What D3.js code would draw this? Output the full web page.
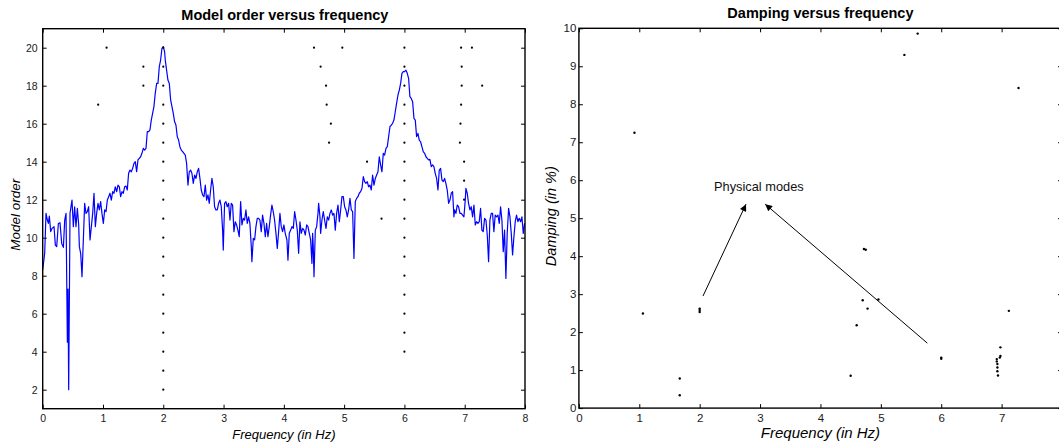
<!DOCTYPE html>
<html><head><meta charset="utf-8">
<script src="https://cdn.jsdelivr.net/npm/d3@7"></script>
<style>
body{margin:0;background:#fff;}
svg{display:block;}
text{font-family:"Liberation Sans",Arial,Helvetica,sans-serif;}
</style>
</head><body>
<svg id="chart" width="1059" height="444"></svg>
<script>
// ---------------- DATA ----------------
const leftTitle = "Model order versus frequency";
const rightTitle = "Damping versus frequency";
const leftXLabel = "Frequency (in Hz)";
const leftYLabel = "Model order";
const rightXLabel = "Frequency (in Hz)";
const rightYLabel = "Damping (in %)";
const annotationText = "Physical modes";

const leftXTicks = [0,1,2,3,4,5,6,7,8];
const leftYTicks = [2,4,6,8,10,12,14,16,18,20];
const rightXTicks = [0,1,2,3,4,5,6,7];
const rightYTicks = [0,1,2,3,4,5,6,7,8,9,10];

// spectrum (frequency Hz, scaled amplitude on model-order axis)
const spectrum = [
[0,8.3],[0.033,9.18],[0.055,11.28],[0.077,10.93],[0.094,10.75],[0.11,11.14],[0.133,10.32],[0.155,10.49],[0.188,10.58],[0.21,9.61],[0.232,9.53],[0.26,10.75],[0.287,10.79],[0.315,9.7],[0.343,9.49],[0.365,10.93],[0.387,11.28],[0.409,4.5],[0.42,7.3],[0.431,2.0],[0.453,11.28],[0.486,11.98],[0.508,10.58],[0.53,11.63],[0.552,10.58],[0.575,11.54],[0.597,10.67],[0.608,9.53],[0.63,9.18],[0.652,7.95],[0.674,9.88],[0.696,11.81],[0.718,11.28],[0.74,11.37],[0.762,11.63],[0.785,9.88],[0.807,10.58],[0.829,11.28],[0.851,12.34],[0.873,10.58],[0.895,11.28],[0.917,11.81],[0.939,11.46],[0.961,11.9],[0.983,11.28],[1.006,10.75],[1.028,11.46],[1.05,11.37],[1.072,11.98],[1.094,12.16],[1.116,12.34],[1.138,11.98],[1.16,12.42],[1.182,12.34],[1.204,12.68],[1.227,12.42],[1.249,12.77],[1.271,12.68],[1.293,12.16],[1.315,12.42],[1.337,12.34],[1.359,12.68],[1.381,12.72],[1.403,12.51],[1.425,13.39],[1.448,13.56],[1.47,13.47],[1.492,13.65],[1.514,13.91],[1.536,14.0],[1.558,13.47],[1.58,14.09],[1.602,14.18],[1.624,14.26],[1.646,14.44],[1.669,14.7],[1.691,14.61],[1.713,14.7],[1.735,15.58],[1.757,15.58],[1.779,15.67],[1.801,16.19],[1.823,16.54],[1.845,16.9],[1.867,17.6],[1.89,18.12],[1.912,18.12],[1.934,19.0],[1.956,19.35],[1.978,19.97],[2.0,20.05],[2.022,19.79],
[2.033,19.35],[2.055,18.82],[2.077,18.3],[2.1,18.12],[2.122,17.25],[2.144,16.9],[2.166,16.54],[2.188,16.1],[2.21,15.93],[2.232,15.32],[2.254,15.14],[2.276,14.79],[2.299,14.61],[2.321,14.53],[2.343,14.44],[2.365,14.35],[2.387,13.91],[2.409,12.77],[2.431,13.47],[2.453,13.56],[2.475,13.39],[2.498,12.86],[2.52,13.3],[2.542,13.12],[2.564,13.47],[2.586,13.65],[2.608,13.12],[2.63,12.51],[2.652,12.25],[2.675,12.16],[2.697,12.77],[2.719,11.98],[2.741,12.25],[2.763,11.81],[2.785,12.51],[2.807,13.12],[2.829,12.68],[2.851,11.63],[2.874,11.46],[2.896,11.46],[2.918,11.81],[2.94,11.98],[2.962,11.63],[2.984,10.4],[2.995,9.35],[3.017,11.81],[3.039,11.9],[3.061,11.63],[3.084,11.81],[3.106,10.93],[3.128,11.81],[3.15,11.72],[3.172,10.32],[3.194,10.84],[3.216,10.67],[3.238,10.4],[3.26,10.05],[3.283,11.9],[3.305,10.67],[3.327,11.02],[3.349,10.93],[3.371,11.46],[3.393,10.75],[3.415,11.1],[3.437,10.75],[3.46,9.53],[3.47,8.74],[3.493,9.96],[3.515,9.88],[3.537,10.58],[3.559,11.02],[3.581,11.02],[3.603,10.93],[3.625,10.32],[3.647,11.19],[3.67,10.75],[3.692,10.05],[3.714,10.75],[3.736,10.05],[3.758,10.58],[3.78,11.19],[3.802,11.72],[3.824,11.37],[3.846,10.93],[3.869,10.23],[3.891,9.44],[3.913,10.32],[3.935,11.28],[3.957,10.58],[3.979,10.32],[4.001,10.67],[4.023,10.23],[4.051,9.88],
[4.068,8.82],[4.09,10.23],[4.113,10.4],[4.135,10.58],[4.157,10.49],[4.179,11.37],[4.201,10.93],[4.223,10.4],[4.245,9.18],[4.267,10.84],[4.289,10.23],[4.312,10.49],[4.334,10.4],[4.356,10.14],[4.378,10.67],[4.4,10.58],[4.422,10.23],[4.444,9.88],[4.466,8.65],[4.477,10.23],[4.488,9.53],[4.5,7.95],[4.522,10.4],[4.544,10.58],[4.566,11.28],[4.577,11.81],[4.599,11.1],[4.61,10.23],[4.632,10.93],[4.654,11.37],[4.676,10.93],[4.699,10.49],[4.721,11.1],[4.743,10.93],[4.765,11.28],[4.787,11.46],[4.809,11.19],[4.831,11.28],[4.853,10.4],[4.875,11.28],[4.898,11.72],[4.92,10.84],[4.942,11.46],[4.964,12.16],[4.986,12.16],[5.008,11.63],[5.03,11.46],[5.052,11.1],[5.074,11.46],[5.097,12.07],[5.119,11.46],[5.141,11.37],[5.163,8.91],[5.185,11.9],[5.207,12.07],[5.229,12.16],[5.251,12.34],[5.273,12.42],[5.296,12.6],[5.318,13.21],[5.34,12.95],[5.362,12.86],[5.384,12.95],[5.406,12.68],[5.428,12.77],[5.45,12.51],[5.472,13.3],[5.495,12.77],[5.517,13.12],[5.539,13.3],[5.561,13.47],[5.583,14.26],[5.605,13.83],[5.627,13.47],[5.649,14.44],[5.671,14.35],[5.694,14.7],[5.716,14.79],[5.738,15.32],[5.76,15.84],[5.782,15.93],[5.804,16.02],[5.826,16.19],[5.848,16.63],[5.87,17.07],[5.893,17.51],[5.915,17.77],[5.937,18.12],[5.959,18.65],[5.981,18.74],[6.003,18.74],[6.025,18.82],[6.047,18.65],
[6.069,18.39],[6.091,17.42],[6.113,17.33],[6.136,17.16],[6.158,16.28],[6.18,16.19],[6.202,15.32],[6.224,15.49],[6.246,15.14],[6.268,15.05],[6.29,14.79],[6.312,14.53],[6.335,14.44],[6.357,14.26],[6.379,14.18],[6.401,14.09],[6.423,14.12],[6.445,13.74],[6.467,13.83],[6.489,13.74],[6.511,13.39],[6.534,13.12],[6.556,12.51],[6.578,13.56],[6.6,13.65],[6.622,13.04],[6.644,12.95],[6.666,13.12],[6.688,12.86],[6.71,12.51],[6.733,11.81],[6.755,11.98],[6.777,12.34],[6.799,12.42],[6.821,11.1],[6.832,11.46],[6.854,11.28],[6.876,11.72],[6.898,11.63],[6.921,11.28],[6.943,11.28],[6.965,11.19],[6.987,11.1],[7.009,11.98],[7.02,12.6],[7.042,12.34],[7.064,11.81],[7.086,11.46],[7.108,11.63],[7.131,11.1],[7.153,11.72],[7.175,10.67],[7.197,10.84],[7.219,10.75],[7.241,10.84],[7.263,11.54],[7.285,10.4],[7.307,10.32],[7.33,11.02],[7.352,10.93],[7.374,10.14],[7.396,8.74],[7.418,10.93],[7.44,11.28],[7.462,11.28],[7.484,10.32],[7.506,11.19],[7.529,11.1],[7.551,11.19],[7.573,10.75],[7.595,11.63],[7.617,10.93],[7.639,9.26],[7.661,10.4],[7.683,7.86],[7.705,10.23],[7.728,11.54],[7.75,11.1],[7.772,10.23],[7.794,9.09],[7.816,10.05],[7.838,10.84],[7.86,11.19],[7.882,10.84],[7.904,11.02],[7.927,10.84],[7.949,11.1],[7.971,10.23],[7.993,10.75]
];

// stabilization diagram poles (frequency, model order)
const stablePolesMode1 = [[2.0,2],[2.0,3],[2.0,4],[2.0,5],[2.0,6],[2.0,7],[2.0,8],[2.0,9],[2.0,10],[2.0,11],[2.0,12],[2.0,13],[2.0,14],[2.0,15],[2.0,16],[2.0,17],[2.0,18],[2.0,19],[2.0,20]];
const stablePolesMode2 = [[6.0,4],[6.0,5],[6.0,6],[6.0,7],[6.0,8],[6.0,9],[6.0,10],[6.0,11],[6.0,12],[6.0,13],[6.0,14],[6.0,15],[6.0,16],[6.0,17],[6.0,18],[6.0,19],[6.0,20]];
const spuriousPoles = [[1.06,20],[0.92,17],[1.67,19],[1.67,18],[4.50,20],[4.97,20],[4.61,19],[4.70,18],[4.71,17],[4.78,16],[4.75,15],[5.38,14],[5.62,11],[6.94,20],[7.12,20],[6.95,19],[6.95,18],[7.29,18],[6.94,17],[6.93,16],[6.92,15],[6.99,14],[6.99,13],[6.99,12]];

// damping of all poles (frequency, damping %)
const dampingPoles = [[0.92,7.25],[5.39,9.30],[5.61,9.86],[7.28,8.43],[4.72,4.19],[4.75,4.17],[1.06,2.49],[2.0,2.62],[2.0,2.58],[2.0,2.53],[1.67,0.78],[1.67,0.34],[4.70,2.84],[4.78,2.62],[4.60,2.18],[4.50,0.85],[4.96,2.86],[6.0,1.33],[6.0,1.30],[7.12,2.56],[6.98,1.60],[6.98,1.37],[6.97,1.33],[6.92,1.29],[6.92,1.23],[6.93,1.16],[6.93,1.07],[6.93,0.97],[6.94,0.86]];

// annotation arrows in data units (from [f,d] to [f,d])
const annotationAnchor = [2.98, 5.83];
const annotationArrows = [[[2.055,2.95],[2.767,5.37]],[[5.77,1.71],[3.085,5.37]]];

// ---------------- DRAWING ----------------
const svg = d3.select("#chart");
const ink = "#000";

// Left panel scales
const xL = d3.scaleLinear().domain([0,8]).range([42.7,525]);
const yL = d3.scaleLinear().domain([1,21]).range([408.7,28.7]);
// Right panel scales
const xR = d3.scaleLinear().domain([0,8]).range([578.9,1062]);
const yR = d3.scaleLinear().domain([0,10]).range([408.1,28.3]);

function drawFrame(g, x, y, xt, yt, labelFont, yPad, xPad) {
  const [x0,x1] = x.range(), [y0,y1] = y.range();
  const xAll = d3.range(x.domain()[0], x.domain()[1] + 1);
  const b = g.append("g").attr("transform",`translate(0,${y0})`)
    .call(d3.axisBottom(x).tickValues(xt).tickSizeInner(-4).tickSizeOuter(0).tickPadding(xPad).tickFormat(d3.format("d")));
  const t = g.append("g").attr("transform",`translate(0,${y1})`)
    .call(d3.axisTop(x).tickValues(xt).tickSizeInner(-4).tickSizeOuter(0).tickFormat(""));
  const l = g.append("g").attr("transform",`translate(${x0},0)`)
    .call(d3.axisLeft(y).tickValues(yt).tickSizeInner(-4).tickSizeOuter(0).tickPadding(yPad).tickFormat(d3.format("d")));
  const r = g.append("g").attr("transform",`translate(${x1},0)`)
    .call(d3.axisRight(y).tickValues(yt).tickSizeInner(-4).tickSizeOuter(0).tickFormat(""));
  [b,t,l,r].forEach(a => {
    a.select(".domain").remove();
    a.selectAll(".tick line").attr("stroke",ink).attr("stroke-width",1);
    a.selectAll("text").attr("fill","#1a1a1a").style("font-size",labelFont+"px")
      .style("font-family",'"Liberation Sans",Arial,Helvetica,sans-serif');
  });
  g.append("rect").attr("x",x0).attr("y",y1).attr("width",x1-x0).attr("height",y0-y1)
    .attr("fill","none").attr("stroke",ink).attr("stroke-width",1.4);
}

// ----- Left panel -----
const gL = svg.append("g");
gL.append("clipPath").attr("id","clipL").append("rect")
  .attr("x",xL.range()[0]).attr("y",yL.range()[1])
  .attr("width",xL.range()[1]-xL.range()[0]).attr("height",yL.range()[0]-yL.range()[1]);

gL.append("path").datum(spectrum)
  .attr("clip-path","url(#clipL)")
  .attr("fill","none").attr("stroke","#0000ff").attr("stroke-width",1.2)
  .attr("stroke-linejoin","round")
  .attr("d", d3.line().x(d=>xL(d[0])).y(d=>yL(d[1])));

gL.selectAll("circle.pole").data(stablePolesMode1.concat(stablePolesMode2, spuriousPoles))
  .join("circle").attr("class","pole")
  .attr("cx",d=>xL(d[0])).attr("cy",d=>yL(d[1])).attr("r",1.1).attr("fill",ink);

drawFrame(gL, xL, yL, leftXTicks, leftYTicks, 10.5, 5, 6);

gL.append("text").attr("x",(xL.range()[0]+xL.range()[1])/2 + 1).attr("y",19.5)
  .attr("text-anchor","middle").style("font-size","14.5px").style("font-weight","bold").text(leftTitle);
gL.append("text").attr("x",(xL.range()[0]+xL.range()[1])/2).attr("y",438.5)
  .attr("text-anchor","middle").style("font-size","13px").style("font-style","italic").text(leftXLabel);
gL.append("text").attr("transform",`translate(20,${(yL.range()[0]+yL.range()[1])/2 - 4}) rotate(-90)`)
  .attr("text-anchor","middle").style("font-size","13.5px").style("font-style","italic").text(leftYLabel);

// ----- Right panel -----
const gR = svg.append("g");
gR.selectAll("circle.pole").data(dampingPoles)
  .join("circle").attr("class","pole")
  .attr("cx",d=>xR(d[0])).attr("cy",d=>yR(d[1])).attr("r",1.2).attr("fill",ink);

svg.append("defs").append("marker").attr("id","arrowHead")
  .attr("viewBox","0 0 10 10").attr("refX",10).attr("refY",5)
  .attr("markerUnits","userSpaceOnUse").attr("markerWidth",10).attr("markerHeight",7)
  .attr("orient","auto")
  .append("path").attr("d","M0,0 L10,5 L0,10 Z").attr("fill",ink);

gR.selectAll("line.arrow").data(annotationArrows).join("line").attr("class","arrow")
  .attr("x1",d=>xR(d[0][0])).attr("y1",d=>yR(d[0][1]))
  .attr("x2",d=>xR(d[1][0])).attr("y2",d=>yR(d[1][1]))
  .attr("stroke",ink).attr("stroke-width",1).attr("marker-end","url(#arrowHead)");

gR.append("text").attr("x",xR(annotationAnchor[0])).attr("y",yR(annotationAnchor[1]))
  .attr("dy","0.35em").attr("text-anchor","middle").style("font-size","12.8px").attr("fill","#111").text(annotationText);

drawFrame(gR, xR, yR, rightXTicks, rightYTicks, 11.5, 2.5, 6);

gR.append("text").attr("x",(xR.range()[0]+xR.range()[1])/2).attr("y",18)
  .attr("text-anchor","middle").style("font-size","14.5px").style("font-weight","bold").text(rightTitle);
gR.append("text").attr("x",(xR.range()[0]+xR.range()[1])/2).attr("y",438)
  .attr("text-anchor","middle").style("font-size","15px").style("font-style","italic").text(rightXLabel);
gR.append("text").attr("transform",`translate(556,${(yR.range()[0]+yR.range()[1])/2 - 2}) rotate(-90)`)
  .attr("text-anchor","middle").style("font-size","14.5px").style("font-style","italic").text(rightYLabel);
</script>
</body></html>
